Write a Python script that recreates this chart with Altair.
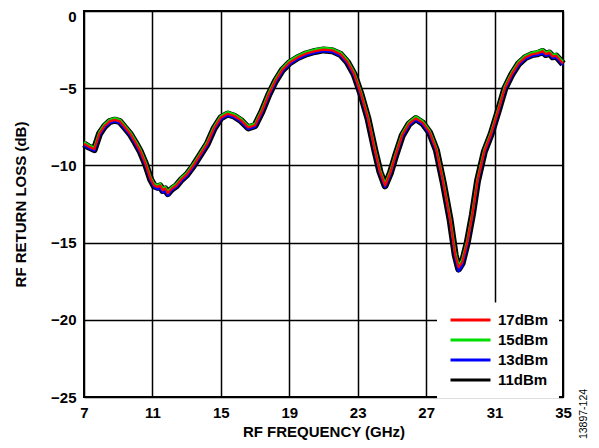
import altair as alt
import pandas as pd

freq_ghz = [7.0, 7.3, 7.6, 7.9, 8.2, 8.5, 8.8, 9.1, 9.4, 9.7,
            10.0, 10.3, 10.6, 10.9, 11.1, 11.3, 11.45, 11.6, 11.75, 11.9,
            12.05, 12.2, 12.4, 12.7, 13.0, 13.4, 13.8, 14.2, 14.6, 15.0,
            15.4, 15.8, 16.2, 16.6, 17.0, 17.4, 17.8, 18.2, 18.6, 19.0,
            19.5, 20.0, 20.5, 21.0, 21.5, 22.0, 22.4, 22.8, 23.2, 23.6,
            24.0, 24.3, 24.6, 24.9, 25.2, 25.6, 26.0, 26.4, 26.8, 27.2,
            27.6, 28.0, 28.4, 28.7, 28.9, 29.1, 29.4, 29.7, 30.0, 30.4,
            30.8, 31.2, 31.6, 32.0, 32.4, 32.8, 33.2, 33.5, 33.8, 34.0,
            34.2, 34.4, 34.6, 34.8, 35.0]

loss_17dbm = [-8.6, -8.8, -8.95, -7.95, -7.45, -7.15, -7.05, -7.15, -7.55, -7.95,
              -8.5, -9.1, -9.9, -10.9, -11.3, -11.4, -11.3, -11.6, -11.5, -11.8,
              -11.6, -11.45, -11.3, -10.9, -10.6, -10.0, -9.3, -8.6, -7.6, -6.9,
              -6.65, -6.8, -7.1, -7.55, -7.4, -6.5, -5.4, -4.5, -3.8, -3.35,
              -3.0, -2.75, -2.6, -2.5, -2.55, -2.8, -3.3, -4.1, -5.4, -6.95,
              -9.0, -10.4, -11.3, -10.5, -9.4, -8.05, -7.3, -6.95, -7.25, -7.85,
              -9.0, -11.1, -13.5, -15.8, -16.6, -16.3, -15.0, -13.2, -11.0, -9.1,
              -7.95, -6.5, -5.0, -4.1, -3.4, -3.0, -2.8, -2.75, -2.6, -2.8,
              -2.7, -2.95, -2.9, -3.15, -3.4]

loss_15dbm = [-8.5, -8.7, -8.85, -7.85, -7.35, -7.05, -6.95, -7.05, -7.45, -7.85,
              -8.4, -9.0, -9.8, -10.8, -11.2, -11.3, -11.2, -11.5, -11.4, -11.7,
              -11.5, -11.35, -11.2, -10.8, -10.5, -9.9, -9.2, -8.5, -7.5, -6.8,
              -6.55, -6.7, -7.0, -7.45, -7.3, -6.4, -5.3, -4.4, -3.7, -3.25,
              -2.9, -2.65, -2.5, -2.4, -2.45, -2.7, -3.2, -4.0, -5.3, -6.85,
              -8.9, -10.3, -11.2, -10.4, -9.3, -7.95, -7.2, -6.85, -7.15, -7.75,
              -8.9, -11.0, -13.4, -15.65, -16.5, -16.15, -14.9, -13.1, -10.9, -9.0,
              -7.85, -6.4, -4.9, -4.0, -3.3, -2.9, -2.7, -2.62, -2.5, -2.7,
              -2.6, -2.85, -2.8, -3.05, -3.3]

loss_13dbm = [-8.7, -8.9, -9.05, -8.05, -7.55, -7.25, -7.15, -7.25, -7.65, -8.05,
              -8.6, -9.2, -10.0, -11.0, -11.4, -11.55, -11.45, -11.75, -11.65, -11.95,
              -11.7, -11.55, -11.4, -11.0, -10.7, -10.1, -9.4, -8.7, -7.7, -7.0,
              -6.75, -6.9, -7.2, -7.65, -7.5, -6.6, -5.5, -4.6, -3.9, -3.45,
              -3.1, -2.85, -2.7, -2.6, -2.65, -2.9, -3.4, -4.2, -5.5, -7.05,
              -9.1, -10.5, -11.4, -10.6, -9.5, -8.15, -7.4, -7.05, -7.35, -7.95,
              -9.1, -11.2, -13.6, -15.95, -16.85, -16.5, -15.15, -13.3, -11.1, -9.2,
              -8.05, -6.6, -5.1, -4.2, -3.5, -3.1, -2.9, -2.85, -2.75, -2.9,
              -2.8, -3.05, -3.0, -3.25, -3.5]

loss_11dbm = [-8.62, -8.82, -8.97, -7.97, -7.47, -7.17, -7.07, -7.17, -7.57, -7.97,
              -8.52, -9.12, -9.92, -10.92, -11.32, -11.42, -11.33, -11.62, -11.53, -11.82,
              -11.62, -11.47, -11.32, -10.92, -10.62, -10.02, -9.32, -8.62, -7.62, -6.92,
              -6.67, -6.82, -7.12, -7.57, -7.42, -6.52, -5.42, -4.52, -3.82, -3.37,
              -3.02, -2.77, -2.62, -2.52, -2.57, -2.82, -3.32, -4.12, -5.42, -6.97,
              -9.02, -10.42, -11.32, -10.52, -9.42, -8.07, -7.32, -6.97, -7.27, -7.87,
              -9.02, -11.12, -13.52, -15.82, -16.7, -16.35, -15.02, -13.22, -11.02, -9.12,
              -7.97, -6.52, -5.02, -4.12, -3.42, -3.02, -2.82, -2.77, -2.62, -2.82,
              -2.72, -2.97, -2.92, -3.17, -3.42]

series_names = ["17dBm", "15dBm", "13dBm", "11dBm"]
series_colors = ["#ff0000", "#00dd00", "#0000ff", "#000000"]
x_ticks = [7, 11, 15, 19, 23, 27, 31, 35]
y_ticks = [0, -5, -10, -15, -20, -25]
note_text = ["13897-124"]

rows = []
for name, vals in zip(series_names, [loss_17dbm, loss_15dbm, loss_13dbm, loss_11dbm]):
    for f, v in zip(freq_ghz, vals):
        rows.append({"freq": f, "loss": v, "series": name})
df = pd.DataFrame(rows)

FONT = "Arial, Liberation Sans, sans-serif"

x_enc = alt.X(
    "freq:Q",
    scale=alt.Scale(domain=[7, 35], nice=False, zero=False),
    axis=alt.Axis(values=x_ticks, title="RF FREQUENCY (GHz)", labelFlush=False,
                  titleX=239.5, titleY=39, titleBaseline="alphabetic", titleAlign="center",
                  labelPadding=8),
)
y_enc = alt.Y(
    "loss:Q",
    scale=alt.Scale(domain=[-25, 0], nice=False, zero=False),
    axis=alt.Axis(values=y_ticks, title="RF RETURN LOSS (dB)",
                  labelExpr="datum.value == 0 ? '0' : '\u2212' + format(abs(datum.value), 'd')",
                  labelOffset={"condition": {"test": "datum.value == 0", "value": 5}, "value": 0},
                  titleX=-64, titleY=193, titleBaseline="middle", titleAlign="center",
                  labelPadding=8),
)
color_enc = alt.Color(
    "series:N",
    scale=alt.Scale(domain=series_names, range=series_colors),
    legend=alt.Legend(
        title=None, orient="none", legendX=353, legendY=291.5,
        fillColor="white", padding=10, rowPadding=4,
        symbolType="M-0.8,0H7.2", symbolSize=100, symbolStrokeWidth=3,
        labelOffset=36, labelFont=FONT, labelFontSize=15, labelFontWeight="bold",
        labelColor="black",
    ),
)

widths = {"11dBm": 7.0, "13dBm": 2.5, "15dBm": 2.5, "17dBm": 2.2}
layers = []
for name in ["11dBm", "13dBm", "15dBm", "17dBm"]:
    layers.append(
        alt.Chart(df)
        .transform_filter(alt.datum.series == name)
        .mark_line(strokeWidth=widths[name], strokeJoin="round")
        .encode(x=x_enc, y=y_enc, color=color_enc)
    )

note = (
    alt.Chart(pd.DataFrame({"t": note_text}))
    .mark_text(angle=270, font=FONT, fontSize=10.5, color="black")
    .encode(x=alt.value(500), y=alt.value(403), text="t:N")
)

chart = (
    alt.layer(*layers, note)
    .properties(
        width=479, height=386,
        autosize=alt.AutoSizeParams(type="none"),
        padding={"left": 76, "top": 3, "right": 28, "bottom": 43},
    )
    .configure_view(stroke="black", strokeWidth=2)
    .configure_axis(
        domain=False, ticks=False, grid=True, gridColor="black", gridWidth=1.5,
        gridOpacity=1, labelFont=FONT, labelFontSize=15, labelFontWeight="bold",
        labelColor="black", titleFont=FONT, titleFontSize=15, titleFontWeight="bold",
        titleColor="black",
    )
)

chart.save("out.html", embed_options={"renderer": "svg", "actions": False})
